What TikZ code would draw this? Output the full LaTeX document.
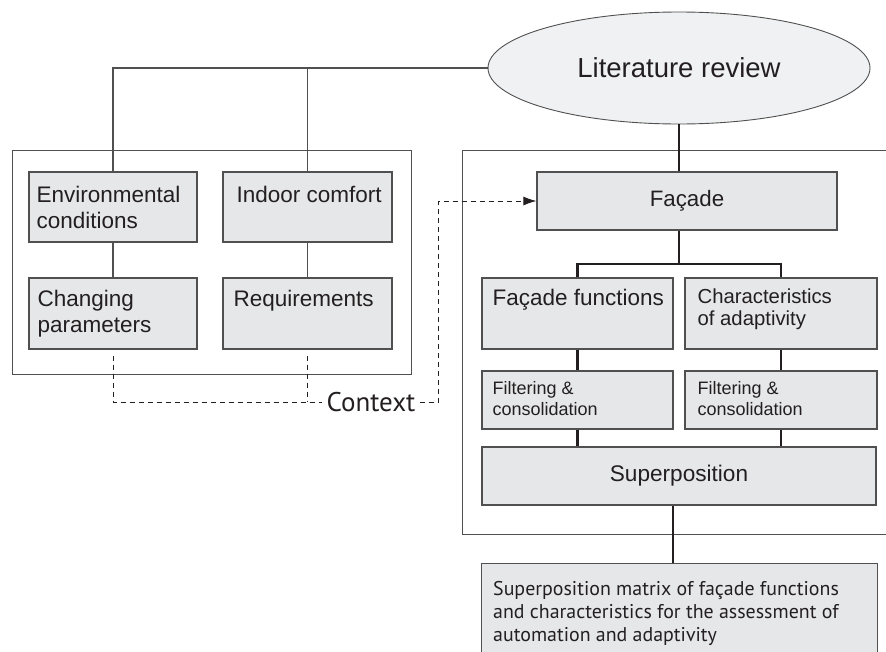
\documentclass[tikz,border=0pt]{standalone}
\usepackage{fontspec}
\setmainfont{Liberation Sans}
\newfontfamily\hum{PT Sans}
\usetikzlibrary{shapes.geometric,arrows.meta}
\definecolor{boxfill}{HTML}{E6E7E8}
\definecolor{ellfill}{HTML}{F0F1F2}
\definecolor{edge}{HTML}{505050}
\definecolor{ink}{HTML}{231F20}
\newcommand{\toplines}[1]{\begin{tabular}[t]{@{}l@{}}#1\end{tabular}}
\begin{document}
\begin{tikzpicture}[x=1pt,y=-1pt,
  box/.style={draw=edge, line width=1.1pt, fill=boxfill, inner sep=0pt},
  frame/.style={draw=edge, line width=0.9pt},
  txt/.style={inner sep=0pt, text=ink, font=\fontsize{22.5}{26}\selectfont},
  smalltxt/.style={inner sep=0pt, text=ink, font=\fontsize{18}{21}\selectfont},
  thinlink/.style={draw=edge, line width=1.4pt},
  thicklink/.style={draw=ink, line width=2.3pt},
  dsh/.style={draw=ink, line width=1pt, dash pattern=on 5pt off 4pt}]
\path[use as bounding box, clip] (0,0) rectangle (886,651);

% outer frames
\draw[frame] (12,150) rectangle (411,374);
\draw[frame] (900,150) -- (462,150) -- (462,534) -- (900,534);

% ellipse
\node[ellipse, draw=edge, line width=0.9pt, fill=ellfill, minimum width=382pt, minimum height=112pt, inner sep=0pt,
  text=ink, font=\fontsize{27.5}{32}\selectfont] (lit) at (679,68) {Literature review};

% left boxes
\node[box, minimum width=168pt, minimum height=70pt] (env) at (113,207) {};
\node[box, minimum width=169pt, minimum height=70pt] (ind) at (307.5,207) {};
\node[box, minimum width=168pt, minimum height=71pt] (chg) at (113,313.5) {};
\node[box, minimum width=169pt, minimum height=71pt] (req) at (307.5,313.5) {};
\node[txt, anchor=base west] (envT) at ([shift={(8,31)}]env.north west) {\toplines{Environmental\\conditions}};
\node[txt, anchor=base west] (indT) at ([shift={(14,31)}]ind.north west) {Indoor comfort};
\node[txt, anchor=base west] (chgT) at ([shift={(9,29)}]chg.north west) {\toplines{Changing\\parameters}};
\node[txt, anchor=base west] (reqT) at ([shift={(11,29)}]req.north west) {Requirements};

% right boxes
\node[box, minimum width=300pt, minimum height=58pt, text=ink, font=\fontsize{22.3}{26}\selectfont] (fac) at (687,201) {Façade};
\node[box, minimum width=191pt, minimum height=71pt] (ff) at (577.5,313.5) {};
\node[box, minimum width=192pt, minimum height=71pt] (chr) at (781,313.5) {};
\node[box, minimum width=191pt, minimum height=58pt] (fl1) at (577.5,400) {};
\node[box, minimum width=192pt, minimum height=58pt] (fl2) at (781,400) {};
\node[box, minimum width=394pt, minimum height=58pt, text=ink, font=\fontsize{22.6}{26}\selectfont] (sup) at (679,476) {Superposition};
\node[box, anchor=north west, minimum width=396pt, minimum height=120pt] (bot) at (481,563) {};

\node[txt, anchor=base west] (ffT) at ([shift={(11,28)}]ff.north west) {Façade functions};
\node[txt, anchor=base west, font=\fontsize{20.3}{22}\selectfont] (chrT) at ([shift={(13,26)}]chr.north west) {\toplines{Characteristics\\of adaptivity}};
\node[smalltxt, anchor=base west] (fl1T) at ([shift={(11,24)}]fl1.north west) {\toplines{Filtering \&\\consolidation}};
\node[smalltxt, anchor=base west] (fl2T) at ([shift={(13,24)}]fl2.north west) {\toplines{Filtering \&\\consolidation}};
\node[inner sep=0pt, text=ink, font=\hum\fontsize{19.9}{23}\selectfont, anchor=base west] (botT)
  at ([shift={(12,32)}]bot.north west)
  {\toplines{Superposition matrix of façade functions\\and characteristics for the assessment of\\automation and adaptivity}};

% left connectors
\draw[thinlink] (lit.west) -| (env.north);
\draw[thinlink] (ind.north) -- (ind.north |- lit.west);
\draw[thinlink] (env.south) -- (chg.north);
\draw[thinlink] (ind.south) -- (req.north);

% right connectors
\draw[thicklink] (lit.south) -- (lit.south |- fac.north);
\draw[thicklink] (lit.south |- fac.south) -- (lit.south |- 0,264) -| (ff.north);
\draw[thicklink] (lit.south |- 0,264) -| (chr.north);
\draw[thicklink] (ff.south) -- (fl1.north);
\draw[thicklink] (chr.south) -- (fl2.north);
\draw[thicklink] (fl1.south) -- (fl1.south |- sup.north);
\draw[thicklink] (fl2.south) -- (fl2.south |- sup.north);
\draw[thicklink] ([xshift=-6pt]sup.south) -- ([xshift=-6pt]sup.south |- bot.north);

% context
\node[inner sep=4pt, text=ink, font=\hum\fontsize{27}{32}\selectfont] (ctx) at (371,402) {Context};
\draw[dsh] ([yshift=-6pt]chg.south) |- (ctx.west);
\draw[dsh] ([yshift=-6pt]req.south) -- (req.south |- ctx.west);
\draw[dsh, -{Latex[length=13pt,width=9pt]}] (ctx.east) -- ++(19,0) |- (fac.west);
\end{tikzpicture}
\end{document}
